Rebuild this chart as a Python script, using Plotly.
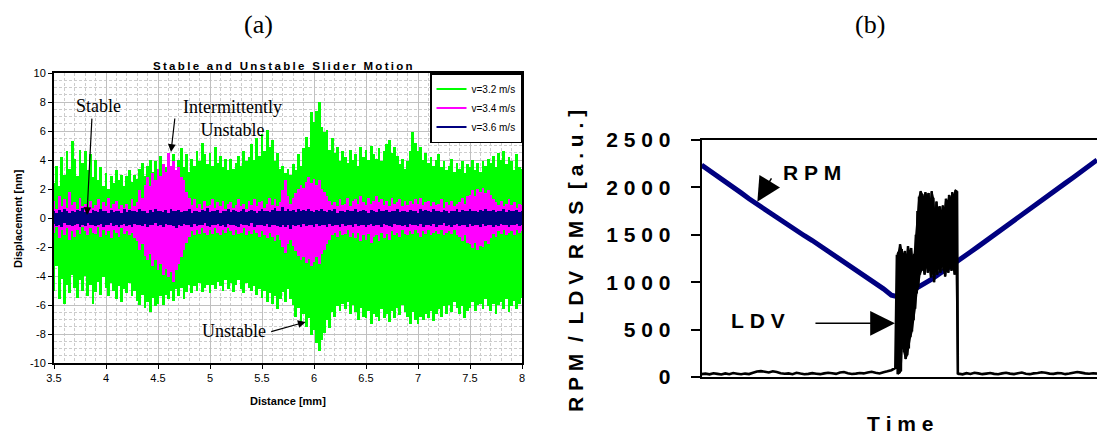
import numpy as np
import plotly.graph_objects as go

W, H = 1097, 438

# ---------------- panel (a): displacement vs distance ----------------
# peak / trough of each oscillation, sampled every 0.025 mm from 3.5 to 8.0 mm
distance_mm = np.linspace(3.5, 8.0, 181)

green_hi = [
    2.4, 3.6, 2.2, 4.2, 3.0, 4.6, 3.4, 5.3,
    4.1, 2.9, 4.7, 3.8, 4.6, 3.3, 4.4, 2.8,
    4.0, 2.6, 3.5, 2.2, 3.1, 2.0, 2.9, 2.4,
    3.3, 2.6, 3.0, 2.2, 2.9, 3.3, 2.5, 3.0,
    2.7, 3.4, 3.8, 2.9, 3.6, 4.0, 3.2, 3.9,
    3.4, 4.3, 3.7, 3.5, 4.0, 3.6, 4.4, 3.3,
    4.0, 4.8, 3.5, 4.4, 3.2, 4.1, 3.6, 4.6,
    3.9, 5.2, 4.4, 3.7, 4.5, 3.6, 4.9, 3.8,
    4.3, 3.5, 4.1, 3.3, 4.1, 3.4, 3.8, 4.3,
    3.6, 4.6, 3.9, 4.2, 5.1, 4.0, 5.5, 4.3,
    5.8, 4.6, 6.1, 4.9, 5.4, 3.9, 4.5, 3.4,
    3.6, 3.1, 3.4, 3.0, 3.7, 3.3, 4.4, 3.6,
    4.8, 5.6, 4.9, 7.3, 6.6, 7.4, 8.0, 6.3,
    5.9, 6.1, 4.7, 5.5, 4.5, 4.9, 3.9, 4.6,
    4.2, 3.8, 4.7, 4.0, 4.4, 3.6, 4.9, 4.2,
    4.7, 4.0, 5.0, 4.4, 4.1, 4.8, 3.9, 4.6,
    5.1, 5.4, 4.5, 4.9, 4.3, 3.7, 4.1, 3.4,
    3.9, 4.6, 5.9, 5.2, 4.6, 4.9, 4.0, 4.5,
    3.8, 4.2, 3.6, 4.0, 4.4, 3.5, 3.9, 3.3,
    3.6, 4.1, 3.2, 3.8, 3.4, 3.9, 3.1, 3.7,
    3.5, 4.0, 3.3, 3.8, 3.2, 3.9, 3.6, 4.1,
    3.8, 4.3, 3.5, 4.5, 4.0, 4.6, 3.7, 4.2,
    3.9, 3.3, 4.4, 3.5, 3.4,
]
green_lo = [
    -5.0, -3.3, -5.6, -4.2, -5.9, -4.6, -5.2, -3.9,
    -4.8, -5.5, -4.3, -5.0, -4.0, -5.4, -4.6, -5.9,
    -5.1, -4.4, -5.3, -4.1, -4.8, -5.4, -4.5, -5.0,
    -5.6, -4.7, -5.8, -4.9, -5.2, -4.5, -5.4, -5.0,
    -5.7, -6.0, -5.3, -6.2, -5.8, -6.5, -5.5, -6.1,
    -5.9, -5.4, -6.0, -5.3, -5.6, -5.0, -5.7, -4.9,
    -5.4, -4.8, -5.6, -5.1, -4.6, -5.2, -4.7, -5.0,
    -4.5, -5.1, -4.8, -4.6, -5.2, -4.6, -4.9, -4.4,
    -4.7, -5.0, -4.3, -4.9, -4.5, -5.1, -4.6, -4.3,
    -4.9, -5.2, -4.5, -4.8, -5.0, -4.7, -5.3, -4.9,
    -5.5, -5.0, -5.8, -5.2, -5.9, -5.4, -6.3, -5.6,
    -5.1, -5.8, -4.9, -5.6, -6.0, -6.8, -6.2, -7.2,
    -6.6, -7.5, -6.9, -8.1, -7.7, -8.6, -9.2, -8.4,
    -7.9, -7.0, -7.6, -6.5, -6.8, -6.1, -6.4, -5.9,
    -6.3, -5.8, -6.6, -6.0, -6.5, -7.0, -6.2, -6.8,
    -6.9, -6.4, -7.3, -6.6, -6.8, -7.1, -6.3, -6.9,
    -6.6, -7.2, -6.4, -6.9, -6.2, -6.7, -6.0, -6.5,
    -6.8, -7.3, -6.5, -7.0, -7.3, -6.8, -7.0, -6.6,
    -6.9, -6.4, -7.1, -6.6, -6.3, -6.8, -6.1, -6.6,
    -6.0, -6.5, -5.8, -6.2, -6.6, -6.1, -6.9, -6.4,
    -6.2, -5.8, -6.4, -6.0, -5.9, -6.3, -5.6, -6.1,
    -6.4, -5.9, -6.6, -6.0, -5.8, -6.3, -5.6, -6.5,
    -6.1, -5.7, -6.3, -5.9, -5.5,
]
magenta_hi = [
    1.2, 0.6, 1.5, 0.8, 1.3, 0.7, 1.8, 0.9,
    1.1, 0.6, 1.4, 0.8, 1.0, 0.5, 1.2, 0.7,
    0.9, 1.3, 0.6, 1.1, 0.8, 1.4, 0.7, 1.0,
    1.2, 0.6, 0.9, 0.7, 1.0, 0.6, 1.3, 0.8,
    1.1, 1.9, 1.4, 2.3, 2.8, 2.2, 3.1, 2.6,
    3.4, 2.9, 3.7, 3.2, 4.5, 3.6, 3.9, 3.3,
    3.5, 2.8, 2.6, 1.8, 1.4, 0.9, 1.3, 0.7,
    1.0, 0.6, 1.2, 0.8, 0.9, 1.3, 0.7, 1.1,
    0.8, 1.2, 0.6, 1.0, 1.1, 0.7, 0.9, 1.3,
    0.8, 1.0, 0.6, 1.2, 0.9, 1.3, 0.8, 1.1,
    1.2, 0.7, 1.0, 1.4, 0.9, 1.3, 0.8, 1.1,
    1.9, 2.6, 1.5, 1.0, 1.4, 1.7, 2.0, 2.3,
    2.1, 2.5, 2.8, 2.4, 2.7, 2.3, 2.6, 2.0,
    1.8, 1.5, 1.2, 0.9, 1.1, 0.8, 1.3, 0.9,
    1.0, 1.4, 0.8, 1.2, 1.3, 1.0, 1.5, 1.1,
    0.9, 1.4, 1.0, 1.2, 1.5, 1.1, 1.3, 0.9,
    1.2, 0.8, 1.4, 1.0, 1.1, 1.3, 0.8, 1.2,
    0.9, 1.2, 1.0, 1.3, 1.0, 1.4, 0.9, 1.1,
    1.2, 0.8, 1.1, 0.9, 1.0, 1.3, 0.7, 1.1,
    0.9, 1.2, 0.8, 1.0, 1.1, 1.4, 1.0, 1.5,
    1.6, 1.9, 1.5, 2.0, 1.8, 2.1, 1.7, 1.9,
    1.6, 1.3, 1.1, 0.9, 1.2, 0.8, 1.0, 1.3,
    0.9, 1.1, 0.7, 1.0, 0.9,
]
magenta_lo = [
    -1.0, -0.6, -1.4, -0.8, -1.2, -0.7, -1.5, -0.9,
    -1.3, -0.8, -1.1, -0.6, -0.9, -1.2, -0.7, -1.0,
    -1.1, -0.6, -1.3, -0.8, -1.2, -0.9, -1.4, -0.8,
    -1.0, -1.3, -0.7, -1.1, -0.9, -1.2, -1.0, -1.4,
    -1.6, -2.2, -1.8, -2.6, -2.9, -2.5, -3.3, -2.9,
    -3.6, -3.2, -3.9, -3.5, -4.1, -3.7, -4.4, -3.6,
    -3.2, -2.7, -2.2, -1.7, -1.3, -0.9, -1.2, -0.8,
    -1.1, -0.7, -1.0, -1.2, -0.8, -1.1, -0.7, -1.0,
    -1.2, -0.8, -1.0, -0.7, -0.9, -1.2, -0.8, -1.1,
    -1.0, -0.7, -1.2, -0.9, -1.1, -0.8, -1.0, -1.3,
    -0.9, -1.2, -1.4, -1.0, -1.3, -1.6, -1.2, -1.5,
    -2.0, -2.4, -1.8, -1.5, -1.9, -2.3, -2.6, -2.9,
    -2.7, -3.1, -2.8, -3.3, -3.0, -2.7, -3.2, -2.5,
    -2.2, -1.8, -1.5, -1.2, -1.0, -1.3, -0.9, -1.2,
    -1.1, -0.8, -1.3, -1.0, -1.4, -1.0, -1.6, -1.2,
    -1.5, -1.1, -1.7, -1.3, -1.2, -1.6, -1.0, -1.4,
    -1.1, -1.5, -0.9, -1.2, -1.0, -1.3, -0.8, -1.1,
    -1.2, -0.9, -1.1, -0.8, -1.0, -1.3, -0.9, -1.1,
    -0.8, -1.2, -1.0, -0.9, -1.1, -0.8, -1.2, -1.0,
    -0.9, -1.1, -0.8, -1.2, -1.3, -1.6, -1.2, -1.7,
    -1.8, -2.1, -1.7, -2.2, -1.9, -2.0, -1.6, -1.8,
    -1.4, -1.1, -1.3, -0.9, -1.1, -0.8, -1.2, -1.0,
    -0.9, -1.2, -0.8, -1.0, -0.9,
]
navy_hi = [
    0.45, 0.35, 0.55, 0.4, 0.6, 0.45, 0.35, 0.5,
    0.4, 0.55, 0.45, 0.7, 0.4, 0.5, 0.35, 0.55,
    0.45, 0.4, 0.6, 0.45, 0.5, 0.35, 0.55, 0.4,
    0.5, 0.45, 0.35, 0.6, 0.4, 0.55, 0.45, 0.5,
    0.4, 0.65, 0.45, 0.5, 0.35, 0.55, 0.4, 0.6,
    0.45, 0.5, 0.4, 0.55, 0.35, 0.6, 0.45, 0.5,
    0.55, 0.4, 0.5, 0.45, 0.6, 0.35, 0.5, 0.45,
    0.4, 0.55, 0.45, 0.7, 0.4, 0.5, 0.45, 0.55,
    0.35, 0.5, 0.45, 0.6, 0.4, 0.55, 0.5, 0.4,
    0.45, 0.6, 0.4, 0.5, 0.55, 0.45, 0.35, 0.5,
    0.6, 0.45, 0.5, 0.4, 0.55, 0.7, 0.5, 0.45,
    0.75, 0.5, 0.6, 0.45, 0.55, 0.4, 0.65, 0.5,
    0.55, 0.45, 0.6, 0.5, 0.4, 0.55, 0.45, 0.6,
    0.5, 0.4, 0.55, 0.45, 0.6, 0.35, 0.5, 0.45,
    0.4, 0.55, 0.5, 0.45, 0.6, 0.4, 0.5, 0.55,
    0.45, 0.35, 0.55, 0.5, 0.4, 0.6, 0.45, 0.5,
    0.55, 0.4, 0.5, 0.45, 0.65, 0.4, 0.5, 0.45,
    0.4, 0.55, 0.45, 0.5, 0.35, 0.6, 0.45, 0.55,
    0.5, 0.4, 0.6, 0.45, 0.5, 0.4, 0.55, 0.45,
    0.35, 0.5, 0.45, 0.6, 0.4, 0.55, 0.5, 0.45,
    0.6, 0.45, 0.5, 0.4, 0.55, 0.45, 0.65, 0.5,
    0.45, 0.55, 0.4, 0.5, 0.45, 0.6, 0.4, 0.55,
    0.5, 0.45, 0.55, 0.4, 0.5,
]
navy_lo = [
    -0.4, -0.55, -0.45, -0.6, -0.35, -0.5, -0.45, -0.55,
    -0.5, -0.4, -0.6, -0.45, -0.55, -0.35, -0.5, -0.45,
    -0.55, -0.45, -0.4, -0.6, -0.5, -0.45, -0.35, -0.55,
    -0.45, -0.6, -0.5, -0.4, -0.55, -0.45, -0.65, -0.4,
    -0.5, -0.45, -0.55, -0.4, -0.6, -0.45, -0.5, -0.35,
    -0.55, -0.45, -0.6, -0.4, -0.5, -0.45, -0.55, -0.7,
    -0.45, -0.55, -0.4, -0.5, -0.45, -0.6, -0.4, -0.55,
    -0.5, -0.45, -0.35, -0.55, -0.6, -0.45, -0.5, -0.4,
    -0.55, -0.45, -0.6, -0.4, -0.5, -0.45, -0.55, -0.6,
    -0.4, -0.5, -0.45, -0.55, -0.35, -0.6, -0.45, -0.5,
    -0.45, -0.55, -0.4, -0.6, -0.5, -0.45, -0.55, -0.65,
    -0.5, -0.6, -0.45, -0.75, -0.5, -0.55, -0.45, -0.6,
    -0.4, -0.55, -0.5, -0.45, -0.6, -0.4, -0.55, -0.5,
    -0.45, -0.6, -0.4, -0.55, -0.5, -0.45, -0.6, -0.4,
    -0.55, -0.45, -0.5, -0.6, -0.4, -0.55, -0.45, -0.5,
    -0.6, -0.45, -0.4, -0.55, -0.5, -0.45, -0.6, -0.4,
    -0.45, -0.55, -0.6, -0.4, -0.5, -0.45, -0.55, -0.5,
    -0.6, -0.4, -0.5, -0.45, -0.55, -0.4, -0.6, -0.45,
    -0.5, -0.55, -0.4, -0.6, -0.45, -0.5, -0.35, -0.55,
    -0.45, -0.6, -0.5, -0.4, -0.55, -0.45, -0.5, -0.6,
    -0.4, -0.55, -0.45, -0.5, -0.6, -0.4, -0.55, -0.45,
    -0.5, -0.6, -0.45, -0.55, -0.4, -0.5, -0.45, -0.6,
    -0.45, -0.5, -0.4, -0.55, -0.45,
]
series_names = ["v=3.2 m/s", "v=3.4 m/s", "v=3.6 m/s"]
a_xticks = [3.5, 4, 4.5, 5, 5.5, 6, 6.5, 7, 7.5, 8]
a_yticks = [-10, -8, -6, -4, -2, 0, 2, 4, 6, 8, 10]

# ---------------- panel (b): RPM and LDV RMS vs time ----------------
rpm_time = np.arange(0, 101, 2)
rpm = [2236, 2180, 2122, 2068, 2005, 1942, 1880, 1822, 1770, 1712,
       1655, 1600, 1548, 1490, 1440, 1385, 1330, 1272, 1218, 1160,
       1105, 1045, 990, 930, 862, 842, 880, 925, 975, 1028,
       1085, 1140, 1196, 1255, 1318, 1378, 1440, 1500, 1560, 1620,
       1682, 1742, 1800, 1862, 1920, 1985, 2045, 2105, 2165, 2228,
       2289]

ldv_pre_time = np.arange(0, 50)
ldv_pre = [30, 35, 28, 40, 33, 26, 38, 30, 42, 35,
           29, 36, 31, 45, 58, 62, 55, 48, 60, 52,
           40, 34, 38, 30, 44, 36, 29, 33, 41, 35,
           30, 38, 45, 40, 33, 47, 52, 39, 31, 36,
           42, 38, 48, 55, 44, 37, 50, 60, 72, 95]
# stick-slip burst: successive peaks (high) and troughs (low)
burst_time = np.linspace(49.4, 64.6, 39)
burst_hi = [1290, 1320, 1400, 1350, 1280, 1330, 1250, 1380, 1310, 1360,
            1240, 1300, 1500, 1750, 1900, 1960, 1930, 1880, 1950, 1900,
            1940, 1820, 1960, 1890, 1700, 1850, 1760, 1800, 1720, 1810,
            1750, 1880, 1830, 1920, 1870, 1950, 1900, 1970, 1960]
burst_lo = [30, 40, 60, 400, 260, 190, 230, 300, 420, 480,
            600, 720, 880, 950, 1080, 1120, 1150, 1080, 1200, 1100,
            1160, 1050, 1130, 1000, 1150, 1080, 1180, 1100, 1200, 1120,
            1060, 1150, 1100, 1190, 1120, 1160, 1080, 1150, 30]
ldv_post_time = np.arange(65, 101)
ldv_post = [35, 28, 40, 32, 45, 38, 30, 36, 42, 33,
            29, 38, 44, 36, 31, 40, 47, 35, 30, 38,
            42, 50, 45, 36, 33, 41, 39, 30, 36, 44,
            52, 46, 38, 34, 40, 36]
b_yticks = [0, 500, 1000, 1500, 2000, 2500]


def zigzag(x, hi, lo):
    """Interleave peaks and troughs into one oscillating trace."""
    x = np.asarray(x, dtype=float)
    half = (x[1] - x[0]) / 2.0
    xs = np.empty(2 * len(x))
    ys = np.empty(2 * len(x))
    xs[0::2], xs[1::2] = x, x + half
    ys[0::2], ys[1::2] = hi, lo
    return xs, ys


def spaced(s, gap="\u00a0", word_gap="\u00a0\u00a0"):
    return word_gap.join(gap.join(w) for w in s.split(" "))


def px(x):
    return x / W


def py(y):
    return 1 - y / H


SANS = "Liberation Sans, Arial, sans-serif"
SERIF = "Liberation Serif, Times New Roman, serif"
GREEN, MAGENTA, NAVY = "#00ff00", "#ff00ff", "#000080"

fig = go.Figure()

# each oscillation cycle drawn as a vertical stroke from trough to peak
step = distance_mm[1] - distance_mm[0]
for hi, lo, name, color in zip([green_hi, magenta_hi, navy_hi],
                               [green_lo, magenta_lo, navy_lo],
                               series_names, [GREEN, MAGENTA, NAVY]):
    hi, lo = np.asarray(hi), np.asarray(lo)
    fig.add_trace(go.Bar(x=distance_mm, y=hi - lo, base=lo, width=step * 1.04,
                         marker=dict(color=color, line=dict(width=0)),
                         showlegend=False, hoverinfo="skip",
                         xaxis="x", yaxis="y"))
    fig.add_trace(go.Scatter(x=[None], y=[None], mode="lines", name=name,
                             line=dict(color=color, width=2),
                             xaxis="x", yaxis="y"))

fig.add_trace(go.Scatter(x=rpm_time, y=rpm, mode="lines", showlegend=False,
                         line=dict(color=NAVY, width=5), xaxis="x2", yaxis="y2"))

# LDV burst: solid band between troughs and peaks, plus the trace itself
bx, by = zigzag(burst_time, burst_hi, burst_lo)
band_x = np.concatenate([bx[0::2], bx[1::2][::-1]])
band_y = np.concatenate([by[0::2], by[1::2][::-1]])
fig.add_trace(go.Scatter(x=band_x, y=band_y, mode="lines", fill="toself",
                         fillcolor="black", line=dict(color="black", width=1.5),
                         showlegend=False, hoverinfo="skip",
                         xaxis="x2", yaxis="y2"))
ldv_t = np.concatenate([ldv_pre_time, bx, ldv_post_time])
ldv_v = np.concatenate([ldv_pre, by, ldv_post])
fig.add_trace(go.Scatter(x=ldv_t, y=ldv_v, mode="lines", showlegend=False,
                         line=dict(color="black", width=2.6, simplify=False),
                         xaxis="x2", yaxis="y2"))

ann = []


def label(text, x, y, size, family=SANS, bold=False, angle=0):
    ann.append(dict(text=f"<b>{text}</b>" if bold else text, x=px(x), y=py(y),
                    xref="paper", yref="paper", showarrow=False,
                    xanchor="center", yanchor="middle", textangle=angle,
                    font=dict(family=family, size=size, color="black")))


def arrow(x, y, ax, ay, xref, yref, size, width):
    ann.append(dict(text="", x=x, y=y, xref=xref, yref=yref, ax=ax, ay=ay,
                    showarrow=True, arrowhead=2, arrowsize=size,
                    arrowwidth=width, arrowcolor="black"))


# panel (a) texts
label("(a)", 258, 24, 26, SERIF)
label(spaced("Stable and Unstable Slider Motion", "\u2009", "\u2009\u00a0\u2009"),
      283, 66, 11.5, bold=True)
label("Displacement [nm]", 18, 219, 11, bold=True, angle=-90)
label("Distance [mm]", 288, 401, 11, bold=True)
label("Stable", 98, 106, 18, SERIF)
label("Intermittently<br>Unstable", 232, 118, 18, SERIF)
label("Unstable", 234, 331, 18, SERIF)
arrow(3.817, 0.2, 5, -98, "x", "y", 1.3, 1.2)
arrow(4.625, 4.55, 4, -35, "x", "y", 1.3, 1.2)
arrow(5.92, -7.17, -36, 10, "x", "y", 1.3, 1.2)

# panel (b) texts
label("(b)", 870, 24, 26, SERIF)
label(spaced("RPM / LDV RMS [a.u.]"), 575, 261, 21, bold=True, angle=-90)
label(spaced("Time"), 900, 423, 21, bold=True)
label(spaced("RPM"), 812, 173, 21, bold=True)
label(spaced("LDV"), 758, 320, 21, bold=True)
arrow(14.1, 1848, 15, -25, "x2", "y2", 3.2, 1.5)
arrow(48.9, 566, -81, 0, "x2", "y2", 3.3, 1.5)

grid_major = dict(showgrid=True, gridcolor="#c0c0c0", gridwidth=1.2)

fig.update_layout(
    width=W, height=H, autosize=False,
    margin=dict(l=0, r=0, t=0, b=0, pad=0, autoexpand=False),
    paper_bgcolor="white", plot_bgcolor="white",
    font=dict(family=SANS, color="black"),
    barmode="overlay", bargap=0,
    annotations=ann,
    showlegend=True,
    legend=dict(x=px(522), y=py(73), xanchor="right", yanchor="top",
                bgcolor="white", bordercolor="black", borderwidth=1.5,
                font=dict(family=SANS, size=10, color="black"),
                itemwidth=30, tracegroupgap=0),
    xaxis=dict(domain=[px(54), px(522)], anchor="y", range=[3.5, 8.0],
               automargin=False,
               tickvals=a_xticks, ticktext=[f"{v:g}" for v in a_xticks],
               ticks="outside", ticklen=4, tickcolor="black",
               tickfont=dict(size=11, family=SANS, color="black"),
               showline=True, linecolor="black", linewidth=2, mirror=True,
               zeroline=False, **grid_major,
               minor=dict(dtick=0.1, showgrid=True, gridcolor="#cccccc",
                          griddash="3px,2px", gridwidth=1, ticks="")),
    yaxis=dict(domain=[py(363), py(73)], anchor="x", range=[-10, 10],
               automargin=False,
               tickvals=a_yticks, ticktext=[str(v) for v in a_yticks],
               ticks="outside", ticklen=4, tickcolor="black",
               tickfont=dict(size=11, family=SANS, color="black"),
               showline=True, linecolor="black", linewidth=2, mirror=True,
               zeroline=False, **grid_major,
               minor=dict(dtick=0.5, showgrid=True, gridcolor="#cccccc",
                          griddash="3px,2px", gridwidth=1, ticks="")),
    xaxis2=dict(domain=[px(701.6), 1.0], anchor="y2", range=[0, 100],
                automargin=False,
                showticklabels=False, ticks="", showgrid=False, zeroline=False,
                showline=True, linecolor="black", linewidth=2, mirror=True),
    yaxis2=dict(domain=[py(377), py(140)], anchor="x2", range=[0, 2500],
                automargin=False,
                tickvals=b_yticks, ticktext=[spaced(str(v)) for v in b_yticks],
                ticks="outside", ticklen=9, tickwidth=1.5, tickcolor="black",
                ticklabelstandoff=16,
                tickfont=dict(size=21, family=SANS, color="black", weight="bold"),
                showgrid=False, zeroline=False,
                showline=True, linecolor="black", linewidth=2, mirror=False),
)

fig.write_html("out.html")
